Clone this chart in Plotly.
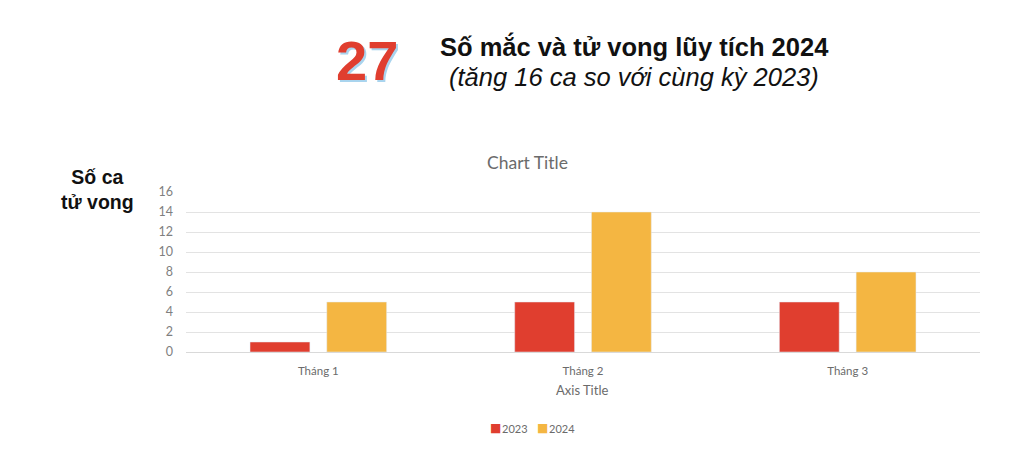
import plotly.graph_objects as go

months = ["Tháng 1", "Tháng 2", "Tháng 3"]
deaths_2023 = [1, 5, 5]
deaths_2024 = [5, 14, 8]
series_names = ["2023", "2024"]
y_ticks = [0, 2, 4, 6, 8, 10, 12, 14, 16]

RED = "#E03E2F"
YELLOW = "#F4B642"
colors = [RED, YELLOW]

OFF = 8  # page body margin
W, H = 1004, 453
L, R, T, B = 178, 32, 184, 109
PW, PH = W - L - R, H - T - B


def px(x):
    return (x - OFF - L) / PW


def py(y):
    return (H - B - (y - OFF)) / PH


fig = go.Figure()
fig.add_trace(go.Bar(x=months, y=deaths_2023, name=series_names[0], marker_color=RED))
fig.add_trace(go.Bar(x=months, y=deaths_2024, name=series_names[1], marker_color=YELLOW))


def A(x, y, text, size, color, family="Liberation Sans", **kw):
    d = dict(x=px(x), y=py(y), text=text, showarrow=False,
             font=dict(family=family, size=size, color=color),
             xref="paper", yref="paper", xanchor="center", yanchor="middle")
    d.update(kw)
    return d


ann = []
ann.append(A(367, 60, "<b>27</b>", 56, "#A9D4EE", xshift=2, yshift=-2))
ann.append(A(367, 60, "<b>27</b>", 56, RED))
ann.append(A(634, 46, "<b>Số mắc và tử vong lũy tích 2024</b>", 25.5, "#111111"))
ann.append(A(634, 77, "<i>(tăng 16 ca so với cùng kỳ 2023)</i>", 25.5, "#111111"))
ann.append(A(97, 189, "<b>Số ca<br>tử vong</b>", 19.5, "#111111", align="center"))
ann.append(A(527, 162, "Chart Title", 17.5, "#6b6b6b", family="Lato"))
ann.append(A(582, 390, "Axis Title", 13, "#6b6b6b", family="Lato"))

# legend entries
leg_x = [488, 535]
for name, col, lx in zip(series_names, colors, leg_x):
    ann.append(A(lx, 428, "■", 12, col, family="DejaVu Sans", xanchor="left"))
    ann.append(A(lx + 12, 428, name, 11, "#6b6b6b", family="Lato", xanchor="left"))

fig.update_layout(
    width=W, height=H,
    margin=dict(l=L, r=R, t=T, b=B, pad=0),
    paper_bgcolor="white", plot_bgcolor="white",
    barmode="group", bargap=0.42, bargroupgap=0.22,
    font=dict(family="Lato", size=11, color="#6b6b6b"),
    showlegend=False,
    annotations=ann,
    xaxis=dict(showgrid=False, showline=True, linecolor="#d9d9d9", linewidth=1,
               ticks="", ticklabelstandoff=8,
               tickfont=dict(family="Lato", size=11.5, color="#6b6b6b")),
    yaxis=dict(range=[0, 16], tickvals=y_ticks, showgrid=True, gridcolor="#e3e3e3",
               zeroline=False, showline=False, ticks="", ticklabelstandoff=12,
               tickfont=dict(family="Lato", size=12.5, color="#7f7f7f")),
)

fig.write_html("out.html")
